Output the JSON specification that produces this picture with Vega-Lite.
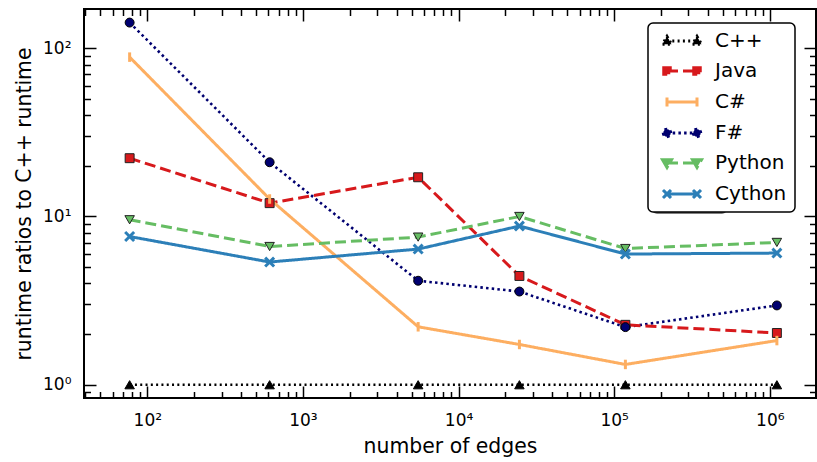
{
  "$schema": "https://vega.github.io/schema/vega-lite/v6.json",
  "width": 732,
  "height": 389,
  "autosize": {"type": "none"},
  "padding": {"left": 84, "top": 9, "right": 1, "bottom": 64},
  "background": "white",
  "config": {
    "font": "DejaVu Sans",
    "view": {"stroke": "black", "strokeWidth": 2},
    "legend": {"strokeWidth": 1.5},
    "axis": {
      "domain": false,
      "grid": false,
      "tickColor": "black",
      "tickWidth": 1.5,
      "labelColor": "black",
      "labelFont": "DejaVu Sans",
      "labelFontSize": 17,
      "titleFont": "DejaVu Sans",
      "titleFontSize": 20.4,
      "titleFontWeight": "normal",
      "titleColor": "black",
      "labelOverlap": false,
      "labelFlush": false,
      "labelBound": false
    }
  },
  "data": {
    "values": [
      {"lang": "C++", "edges": 77, "ratio": 1},
      {"lang": "C++", "edges": 611, "ratio": 1},
      {"lang": "C++", "edges": 5500, "ratio": 1},
      {"lang": "C++", "edges": 24600, "ratio": 1},
      {"lang": "C++", "edges": 118000, "ratio": 1},
      {"lang": "C++", "edges": 1110000, "ratio": 1},
      {"lang": "Java", "edges": 77, "ratio": 22.2},
      {"lang": "Java", "edges": 611, "ratio": 12.0},
      {"lang": "Java", "edges": 5500, "ratio": 17.1},
      {"lang": "Java", "edges": 24600, "ratio": 4.43},
      {"lang": "Java", "edges": 118000, "ratio": 2.27},
      {"lang": "Java", "edges": 1110000, "ratio": 2.03},
      {"lang": "C#", "edges": 77, "ratio": 88.5},
      {"lang": "C#", "edges": 611, "ratio": 12.7},
      {"lang": "C#", "edges": 5500, "ratio": 2.21},
      {"lang": "C#", "edges": 24600, "ratio": 1.735},
      {"lang": "C#", "edges": 118000, "ratio": 1.32},
      {"lang": "C#", "edges": 1110000, "ratio": 1.83},
      {"lang": "F#", "edges": 77, "ratio": 142},
      {"lang": "F#", "edges": 611, "ratio": 21.0},
      {"lang": "F#", "edges": 5500, "ratio": 4.15},
      {"lang": "F#", "edges": 24600, "ratio": 3.58},
      {"lang": "F#", "edges": 118000, "ratio": 2.2},
      {"lang": "F#", "edges": 1110000, "ratio": 2.96},
      {"lang": "Python", "edges": 77, "ratio": 9.56},
      {"lang": "Python", "edges": 611, "ratio": 6.63},
      {"lang": "Python", "edges": 5500, "ratio": 7.54},
      {"lang": "Python", "edges": 24600, "ratio": 10.0},
      {"lang": "Python", "edges": 118000, "ratio": 6.45},
      {"lang": "Python", "edges": 1110000, "ratio": 7.01},
      {"lang": "Cython", "edges": 77, "ratio": 7.6},
      {"lang": "Cython", "edges": 611, "ratio": 5.36},
      {"lang": "Cython", "edges": 5500, "ratio": 6.4},
      {"lang": "Cython", "edges": 24600, "ratio": 8.77},
      {"lang": "Cython", "edges": 118000, "ratio": 5.98},
      {"lang": "Cython", "edges": 1110000, "ratio": 6.06}
    ]
  },
  "resolve": {"axis": {"x": "independent", "y": "independent"}},
  "layer": [
    {
      "mark": {"type": "point", "opacity": 0},
      "encoding": {
        "x": {"field": "edges", "type": "quantitative", "axis": null},
        "y": {"field": "ratio", "type": "quantitative", "axis": null},
        "color": {
          "field": "lang", "type": "nominal",
          "legend": {
            "orient": "none", "legendX": 568, "legendY": 18, "title": null,
            "labelExpr": "'\u00a0\u00a0\u00a0\u00a0\u00a0\u00a0\u00a0\u00a0\u00a0\u00a0\u00a0'",
            "labelFontSize": 20, "labelFont": "DejaVu Sans", "labelColor": "rgba(0,0,0,0)", "labelOpacity": 0,
            "symbolSize": 100, "symbolOffset": 16, "labelOffset": 23, "symbolOpacity": 0,
            "rowPadding": 10, "padding": 8, "fillColor": "#555555", "strokeColor": "#555555", "cornerRadius": 5
          }
        }
      }
    },
    {
      "mark": {"type": "point", "opacity": 0, "filled": true},
      "encoding": {
        "x": {"field": "edges", "type": "quantitative", "axis": null, "scale": {"type": "log", "domain": [39.2, 1980000], "nice": false}},
        "y": {"field": "ratio", "type": "quantitative", "axis": null, "scale": {"type": "log", "domain": [0.834, 171], "nice": false}},
        "shape": {
          "field": "lang", "type": "nominal",
          "scale": {"domain": ["C++","Java","C#","F#","Python","Cython"], "range": [
            "M-3,0L3,0M-3,-0.9L-2.1,0.65L-3.9,0.65ZM3,-0.9L3.9,0.65L2.1,0.65Z",
            "M-3,0L3,0M-3.65,-0.65H-2.35V0.65H-3.65ZM2.35,-0.65H3.65V0.65H2.35Z",
            "M-3,0L3,0M-3,-0.9L-3,0.9M3,-0.9L3,0.9",
            "M-3,0L3,0M-3.75,0A0.75,0.75 0 1,0 -2.25,0A0.75,0.75 0 1,0 -3.75,0ZM2.25,0A0.75,0.75 0 1,0 3.75,0A0.75,0.75 0 1,0 2.25,0Z",
            "M-3,0L3,0M-3.9,-0.65L-2.1,-0.65L-3,0.9ZM2.1,-0.65L3.9,-0.65L3,0.9Z",
            "M-3,0L3,0M-3.8,-0.8L-2.2,0.8M-3.8,0.8L-2.2,-0.8M2.2,-0.8L3.8,0.8M2.2,0.8L3.8,-0.8"
          ]},
          "legend": {
            "orient": "none", "legendX": 564, "legendY": 14, "title": null,
            "labelFontSize": 20, "labelFont": "DejaVu Sans", "labelColor": "black",
            "symbolSize": 100, "symbolStrokeWidth": 3, "symbolOffset": 16, "labelOffset": 23, "symbolOpacity": 1,
            "rowPadding": 10, "padding": 8, "fillColor": "white", "strokeColor": "black", "cornerRadius": 5
          }
        },
        "stroke": {
          "field": "lang", "type": "nominal",
          "scale": {"domain": ["C++","Java","C#","F#","Python","Cython"], "range": ["#000000","#d7191c","#fdae61","#000070","#66bd63","#2c7fb8"]},
          "legend": {
            "orient": "none", "legendX": 564, "legendY": 14, "title": null,
            "labelFontSize": 20, "labelFont": "DejaVu Sans", "labelColor": "black",
            "symbolSize": 100, "symbolStrokeWidth": 3, "symbolOffset": 16, "labelOffset": 23, "symbolOpacity": 1,
            "rowPadding": 10, "padding": 8, "fillColor": "white", "strokeColor": "black", "cornerRadius": 5
          }
        },
        "strokeDash": {
          "field": "lang", "type": "nominal",
          "scale": {"domain": ["C++","Java","C#","F#","Python","Cython"], "range": [[2,3.3],[11,5],[1,0],[2.5,3.2],[11,5],[1,0]]},
          "legend": {
            "orient": "none", "legendX": 564, "legendY": 14, "title": null,
            "labelFontSize": 20, "labelFont": "DejaVu Sans", "labelColor": "black",
            "symbolSize": 100, "symbolStrokeWidth": 3, "symbolOffset": 16, "labelOffset": 23, "symbolOpacity": 1,
            "rowPadding": 10, "padding": 8, "fillColor": "white", "strokeColor": "black", "cornerRadius": 5
          }
        },
        "fill": {
          "field": "lang", "type": "nominal",
          "scale": {"domain": ["C++","Java","C#","F#","Python","Cython"], "range": ["#000000","#d7191c","transparent","#000070","#66bd63","transparent"]},
          "legend": {
            "orient": "none", "legendX": 564, "legendY": 14, "title": null,
            "labelFontSize": 20, "labelFont": "DejaVu Sans", "labelColor": "black",
            "symbolSize": 100, "symbolStrokeWidth": 3, "symbolOffset": 16, "labelOffset": 23, "symbolOpacity": 1,
            "rowPadding": 10, "padding": 8, "fillColor": "white", "strokeColor": "black", "cornerRadius": 5
          }
        }
      }
    },
    {
      "transform": [{"filter": "datum.lang === 'C++' || datum.lang === 'F#'"}],
      "mark": {"type": "line", "strokeWidth": 2.6},
      "encoding": {
        "x": {
          "field": "edges", "type": "quantitative",
          "axis": {
            "orient": "bottom",
            "values": [40,50,60,70,80,90,100,200,300,400,500,600,700,800,900,1000,2000,3000,4000,5000,6000,7000,8000,9000,10000,20000,30000,40000,50000,60000,70000,80000,90000,100000,200000,300000,400000,500000,600000,700000,800000,900000,1000000],
            "labelExpr": "abs(log(datum.value)/LN10 - round(log(datum.value)/LN10)) < 0.001 ? '10' + ['⁰','¹','²','³','⁴','⁵','⁶'][round(log(datum.value)/LN10)] : ''",
            "tickSize": {"condition": {"test": "abs(log(datum.value)/LN10 - round(log(datum.value)/LN10)) < 0.001", "value": -12}, "value": -6.5},
            "labelPadding": 26,
            "title": "number of edges",
            "titlePadding": 3
          }
        },
        "y": {
          "field": "ratio", "type": "quantitative",
          "axis": {
            "orient": "left",
            "values": [0.9,1,2,3,4,5,6,7,8,9,10,20,30,40,50,60,70,80,90,100],
            "labelExpr": "abs(log(datum.value)/LN10 - round(log(datum.value)/LN10)) < 0.001 ? '10' + ['⁰','¹','²','³','⁴','⁵','⁶'][round(log(datum.value)/LN10)] : ''",
            "tickSize": {"condition": {"test": "abs(log(datum.value)/LN10 - round(log(datum.value)/LN10)) < 0.001", "value": -12}, "value": -6.5},
            "labelPadding": 25,
            "title": "runtime ratios to C++ runtime",
            "titlePadding": 8
          }
        },
        "stroke": {"field": "lang", "type": "nominal"},
        "strokeDash": {"field": "lang", "type": "nominal"}
      }
    },
    {
      "transform": [{"filter": "datum.lang !== 'C++' && datum.lang !== 'F#'"}],
      "mark": {"type": "line", "strokeWidth": 3},
      "encoding": {
        "x": {"field": "edges", "type": "quantitative", "axis": null},
        "y": {"field": "ratio", "type": "quantitative", "axis": null},
        "stroke": {"field": "lang", "type": "nominal"},
        "strokeDash": {"field": "lang", "type": "nominal"}
      }
    },
    {
      "transform": [{"filter": "datum.lang === 'C++'"}],
      "mark": {"type": "point", "shape": "triangle-up", "filled": true, "fill": "#000000", "stroke": "#000000", "strokeWidth": 1, "opacity": 1, "size": 90},
      "encoding": {
        "x": {
          "field": "edges", "type": "quantitative",
          "axis": {
            "orient": "top", "labels": false, "title": null,
            "values": [40,50,60,70,80,90,100,200,300,400,500,600,700,800,900,1000,2000,3000,4000,5000,6000,7000,8000,9000,10000,20000,30000,40000,50000,60000,70000,80000,90000,100000,200000,300000,400000,500000,600000,700000,800000,900000,1000000],
            "tickSize": {"condition": {"test": "abs(log(datum.value)/LN10 - round(log(datum.value)/LN10)) < 0.001", "value": -12}, "value": -6.5}
          }
        },
        "y": {
          "field": "ratio", "type": "quantitative",
          "axis": {
            "orient": "right", "labels": false, "title": null,
            "values": [0.9,1,2,3,4,5,6,7,8,9,10,20,30,40,50,60,70,80,90,100],
            "tickSize": {"condition": {"test": "abs(log(datum.value)/LN10 - round(log(datum.value)/LN10)) < 0.001", "value": -12}, "value": -6.5}
          }
        }
      }
    },
    {
      "transform": [{"filter": "datum.lang === 'Java'"}],
      "mark": {"type": "point", "shape": "square", "filled": true, "fill": "#d7191c", "stroke": "#222222", "strokeWidth": 1, "opacity": 1, "size": 80},
      "encoding": {
        "x": {"field": "edges", "type": "quantitative", "axis": null},
        "y": {"field": "ratio", "type": "quantitative", "axis": null}
      }
    },
    {
      "transform": [{"filter": "datum.lang === 'C#'"}],
      "mark": {"type": "point", "shape": "M0,-1L0,1", "filled": false, "stroke": "#fdae61", "strokeWidth": 3, "opacity": 1, "size": 90},
      "encoding": {
        "x": {"field": "edges", "type": "quantitative", "axis": null},
        "y": {"field": "ratio", "type": "quantitative", "axis": null}
      }
    },
    {
      "transform": [{"filter": "datum.lang === 'F#'"}],
      "mark": {"type": "point", "shape": "circle", "filled": true, "fill": "#000070", "stroke": "#000000", "strokeWidth": 1, "opacity": 1, "size": 80},
      "encoding": {
        "x": {"field": "edges", "type": "quantitative", "axis": null},
        "y": {"field": "ratio", "type": "quantitative", "axis": null}
      }
    },
    {
      "transform": [{"filter": "datum.lang === 'Python'"}],
      "mark": {"type": "point", "shape": "triangle-down", "filled": true, "fill": "#66bd63", "stroke": "#222222", "strokeWidth": 1, "opacity": 1, "size": 90},
      "encoding": {
        "x": {"field": "edges", "type": "quantitative", "axis": null},
        "y": {"field": "ratio", "type": "quantitative", "axis": null}
      }
    },
    {
      "transform": [{"filter": "datum.lang === 'Cython'"}],
      "mark": {"type": "point", "shape": "M-1,-1L1,1M-1,1L1,-1", "filled": false, "stroke": "#2c7fb8", "strokeWidth": 3, "opacity": 1, "size": 80},
      "encoding": {
        "x": {"field": "edges", "type": "quantitative", "axis": null},
        "y": {"field": "ratio", "type": "quantitative", "axis": null}
      }
    }
  ]
}
